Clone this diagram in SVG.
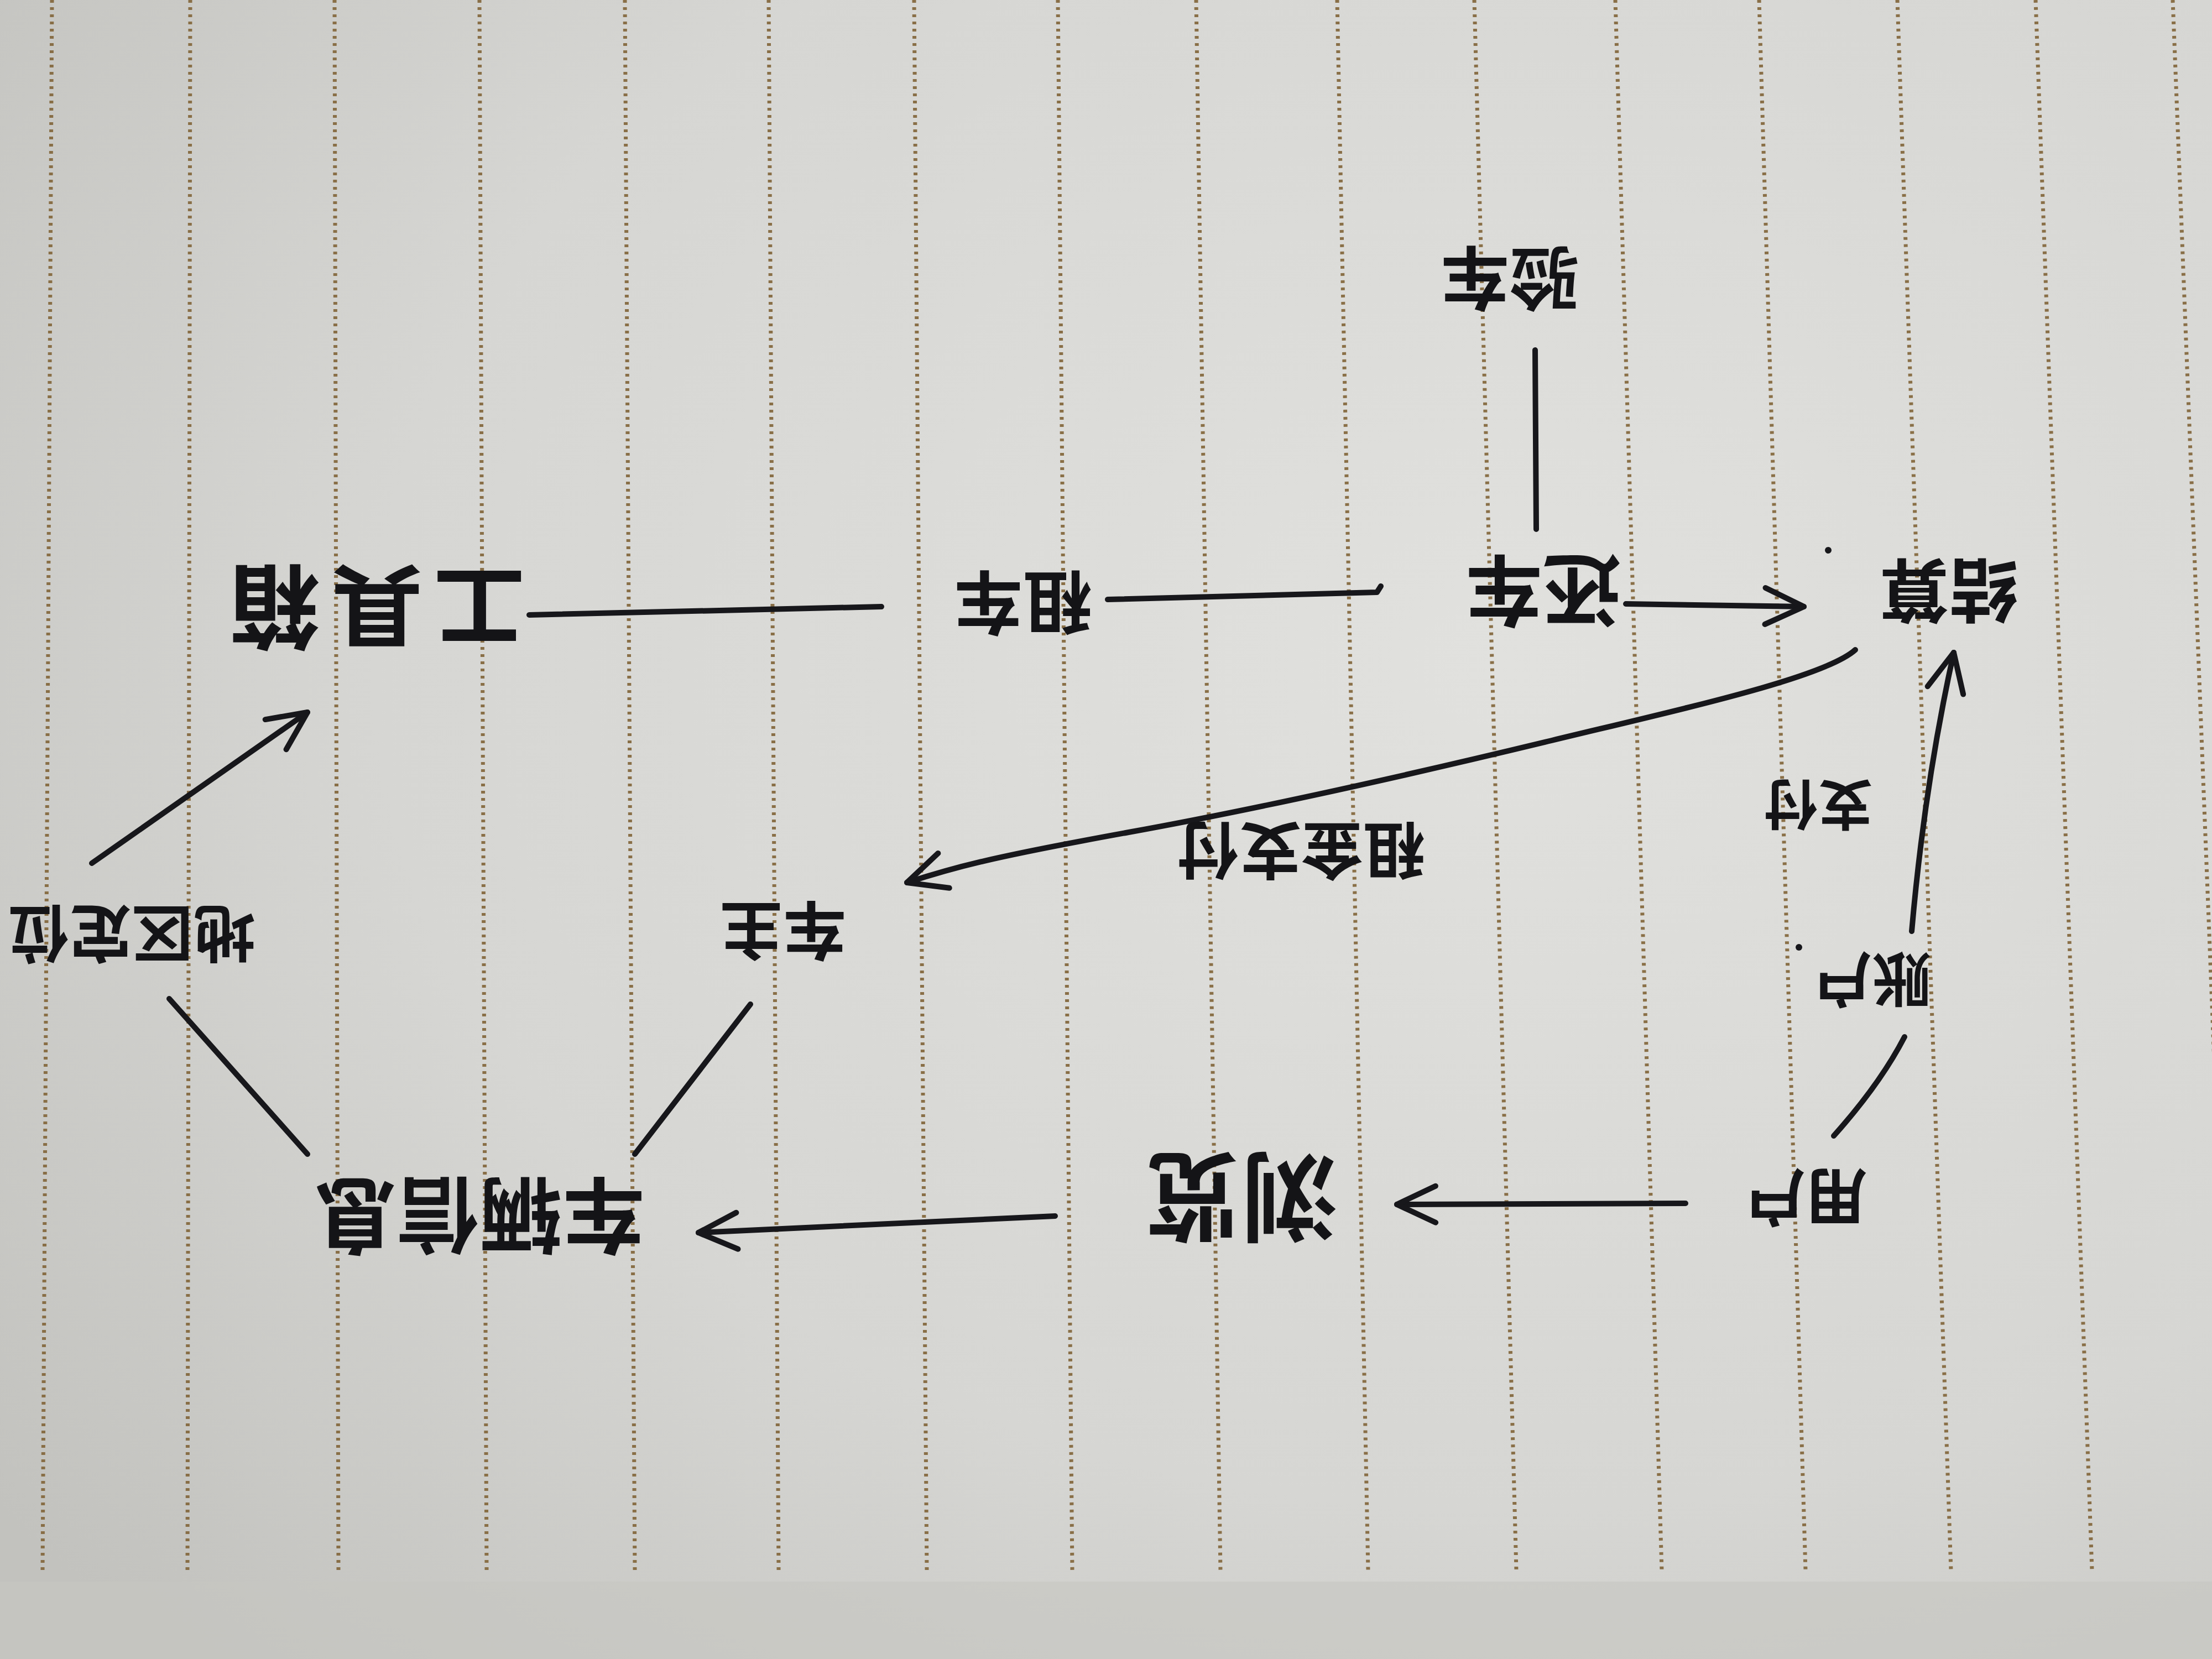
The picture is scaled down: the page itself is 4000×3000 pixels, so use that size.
<svg xmlns="http://www.w3.org/2000/svg" width="4000" height="3000" viewBox="0 0 4000 3000">
<defs>
<radialGradient id="paper" cx="0.68" cy="0.4" r="0.85">
<stop offset="0" stop-color="#e1e1de"/>
<stop offset="0.6" stop-color="#d6d6d3"/>
<stop offset="1" stop-color="#c2c2be"/>
</radialGradient>
<marker id="arr" markerUnits="userSpaceOnUse" markerWidth="90" markerHeight="90" viewBox="0 0 90 90" refX="84" refY="45" orient="auto">
<path d="M14,12 L84,45 L14,78" fill="none" stroke="#17171b" stroke-width="10" stroke-linecap="round" stroke-linejoin="round"/>
</marker>
<style>
.rule{stroke:#85693f;stroke-width:7;stroke-dasharray:5 8;fill:none;opacity:0.95}
.ln{stroke:#17171b;stroke-width:10;fill:none;stroke-linecap:round;stroke-linejoin:round}
.t{font-family:"Noto Sans CJK SC","Noto Sans CJK TC",sans-serif;font-weight:700;fill:#141417;text-anchor:middle;dominant-baseline:central}
</style>
</defs>
<rect x="0" y="0" width="4000" height="3000" fill="url(#paper)"/>
<rect x="0" y="2860" width="4000" height="140" fill="#c6c6c2" opacity="0.6"/>
<g id="rules">
<line class="rule" x1="94" y1="0" x2="77" y2="2840"/>
<line class="rule" x1="344" y1="0" x2="339" y2="2840"/>
<line class="rule" x1="605" y1="0" x2="612" y2="2840"/>
<line class="rule" x1="867" y1="0" x2="880" y2="2840"/>
<line class="rule" x1="1130" y1="0" x2="1148" y2="2840"/>
<line class="rule" x1="1390" y1="0" x2="1408" y2="2840"/>
<line class="rule" x1="1653" y1="0" x2="1676" y2="2840"/>
<line class="rule" x1="1913" y1="0" x2="1939" y2="2840"/>
<line class="rule" x1="2163" y1="0" x2="2207" y2="2840"/>
<line class="rule" x1="2418" y1="0" x2="2474" y2="2840"/>
<line class="rule" x1="2666" y1="0" x2="2742" y2="2840"/>
<line class="rule" x1="2921" y1="0" x2="3005" y2="2840"/>
<line class="rule" x1="3181" y1="0" x2="3265" y2="2840"/>
<line class="rule" x1="3431" y1="0" x2="3528" y2="2840"/>
<line class="rule" x1="3681" y1="0" x2="3783" y2="2840"/>
<line class="rule" x1="3929" y1="0" x2="4040" y2="2840"/>
</g>
<g id="connectors">
<line class="ln" x1="2776" y1="633" x2="2778" y2="957"/>
<line class="ln" x1="2940" y1="1092" x2="3262" y2="1097" marker-end="url(#arr)"/>
<path class="ln" d="M2003,1084 L2490,1071 L2497,1060"/>
<line class="ln" x1="957" y1="1112" x2="1594" y2="1097"/>
<path class="ln" d="M3355,1175 C3300,1225 3050,1280 2806,1339 S2300,1458 2041,1505 S1720,1570 1640,1596" marker-end="url(#arr)"/>
<path class="ln" d="M3457,1684 Q3480,1420 3533,1180" marker-end="url(#arr)"/>
<path class="ln" d="M3444,1875 Q3400,1960 3316,2054"/>
<line class="ln" x1="3048" y1="2176" x2="2526" y2="2178" marker-end="url(#arr)"/>
<line class="ln" x1="1908" y1="2199" x2="1263" y2="2229" marker-end="url(#arr)"/>
<line class="ln" x1="1148" y1="2087" x2="1357" y2="1816"/>
<line class="ln" x1="306" y1="1806" x2="556" y2="2087"/>
<line class="ln" x1="166" y1="1561" x2="556" y2="1288" marker-end="url(#arr)"/>
<circle cx="3306" cy="995" r="6" fill="#17171b"/>
<circle cx="3253" cy="1713" r="6" fill="#17171b"/>
</g>
<g id="n-yanche"><text class="t" x="2730" y="510" font-size="125" transform="rotate(180 2730 510)">验车</text></g>
<g id="n-huanche"><text class="t" x="2790" y="1077" font-size="140" transform="rotate(180 2790 1077)">还车</text></g>
<g id="n-jiesuan"><text class="t" x="3524" y="1075" font-size="125" transform="rotate(180 3524 1075)">结算</text></g>
<g id="n-zuche"><text class="t" x="1850" y="1097" font-size="125" transform="rotate(180 1850 1097)">租车</text></g>
<g id="n-gongjuxiang"><text class="t" x="672" y="1107" font-size="165" letter-spacing="20" transform="rotate(180 672 1107)">工具箱</text></g>
<g id="l-zujinzhifu"><text class="t" x="2353" y="1545" font-size="112" transform="rotate(180 2353 1545)">租金支付</text></g>
<g id="n-chezhu"><text class="t" x="1416" y="1690" font-size="115" transform="rotate(180 1416 1690)">车主</text></g>
<g id="l-zhifu"><text class="t" x="3288" y="1462" font-size="98" transform="rotate(180 3288 1462)">支付</text></g>
<g id="n-zhanghu"><text class="t" x="3385" y="1778" font-size="108" transform="rotate(180 3385 1778)">账户</text></g>
<g id="n-yonghu"><text class="t" x="3265" y="2172" font-size="112" transform="rotate(180 3265 2172)">用户</text></g>
<g id="l-liulan"><text class="t" x="2245" y="2175" font-size="175" transform="rotate(180 2245 2175)">浏览</text></g>
<g id="n-cheliangxinxi"><text class="t" x="867" y="2207" font-size="150" transform="rotate(180 867 2207)">车辆信息</text></g>
<g id="n-diqudingwei"><text class="t" x="238" y="1695" font-size="112" transform="rotate(180 238 1695)">地区定位</text></g>
</svg>
